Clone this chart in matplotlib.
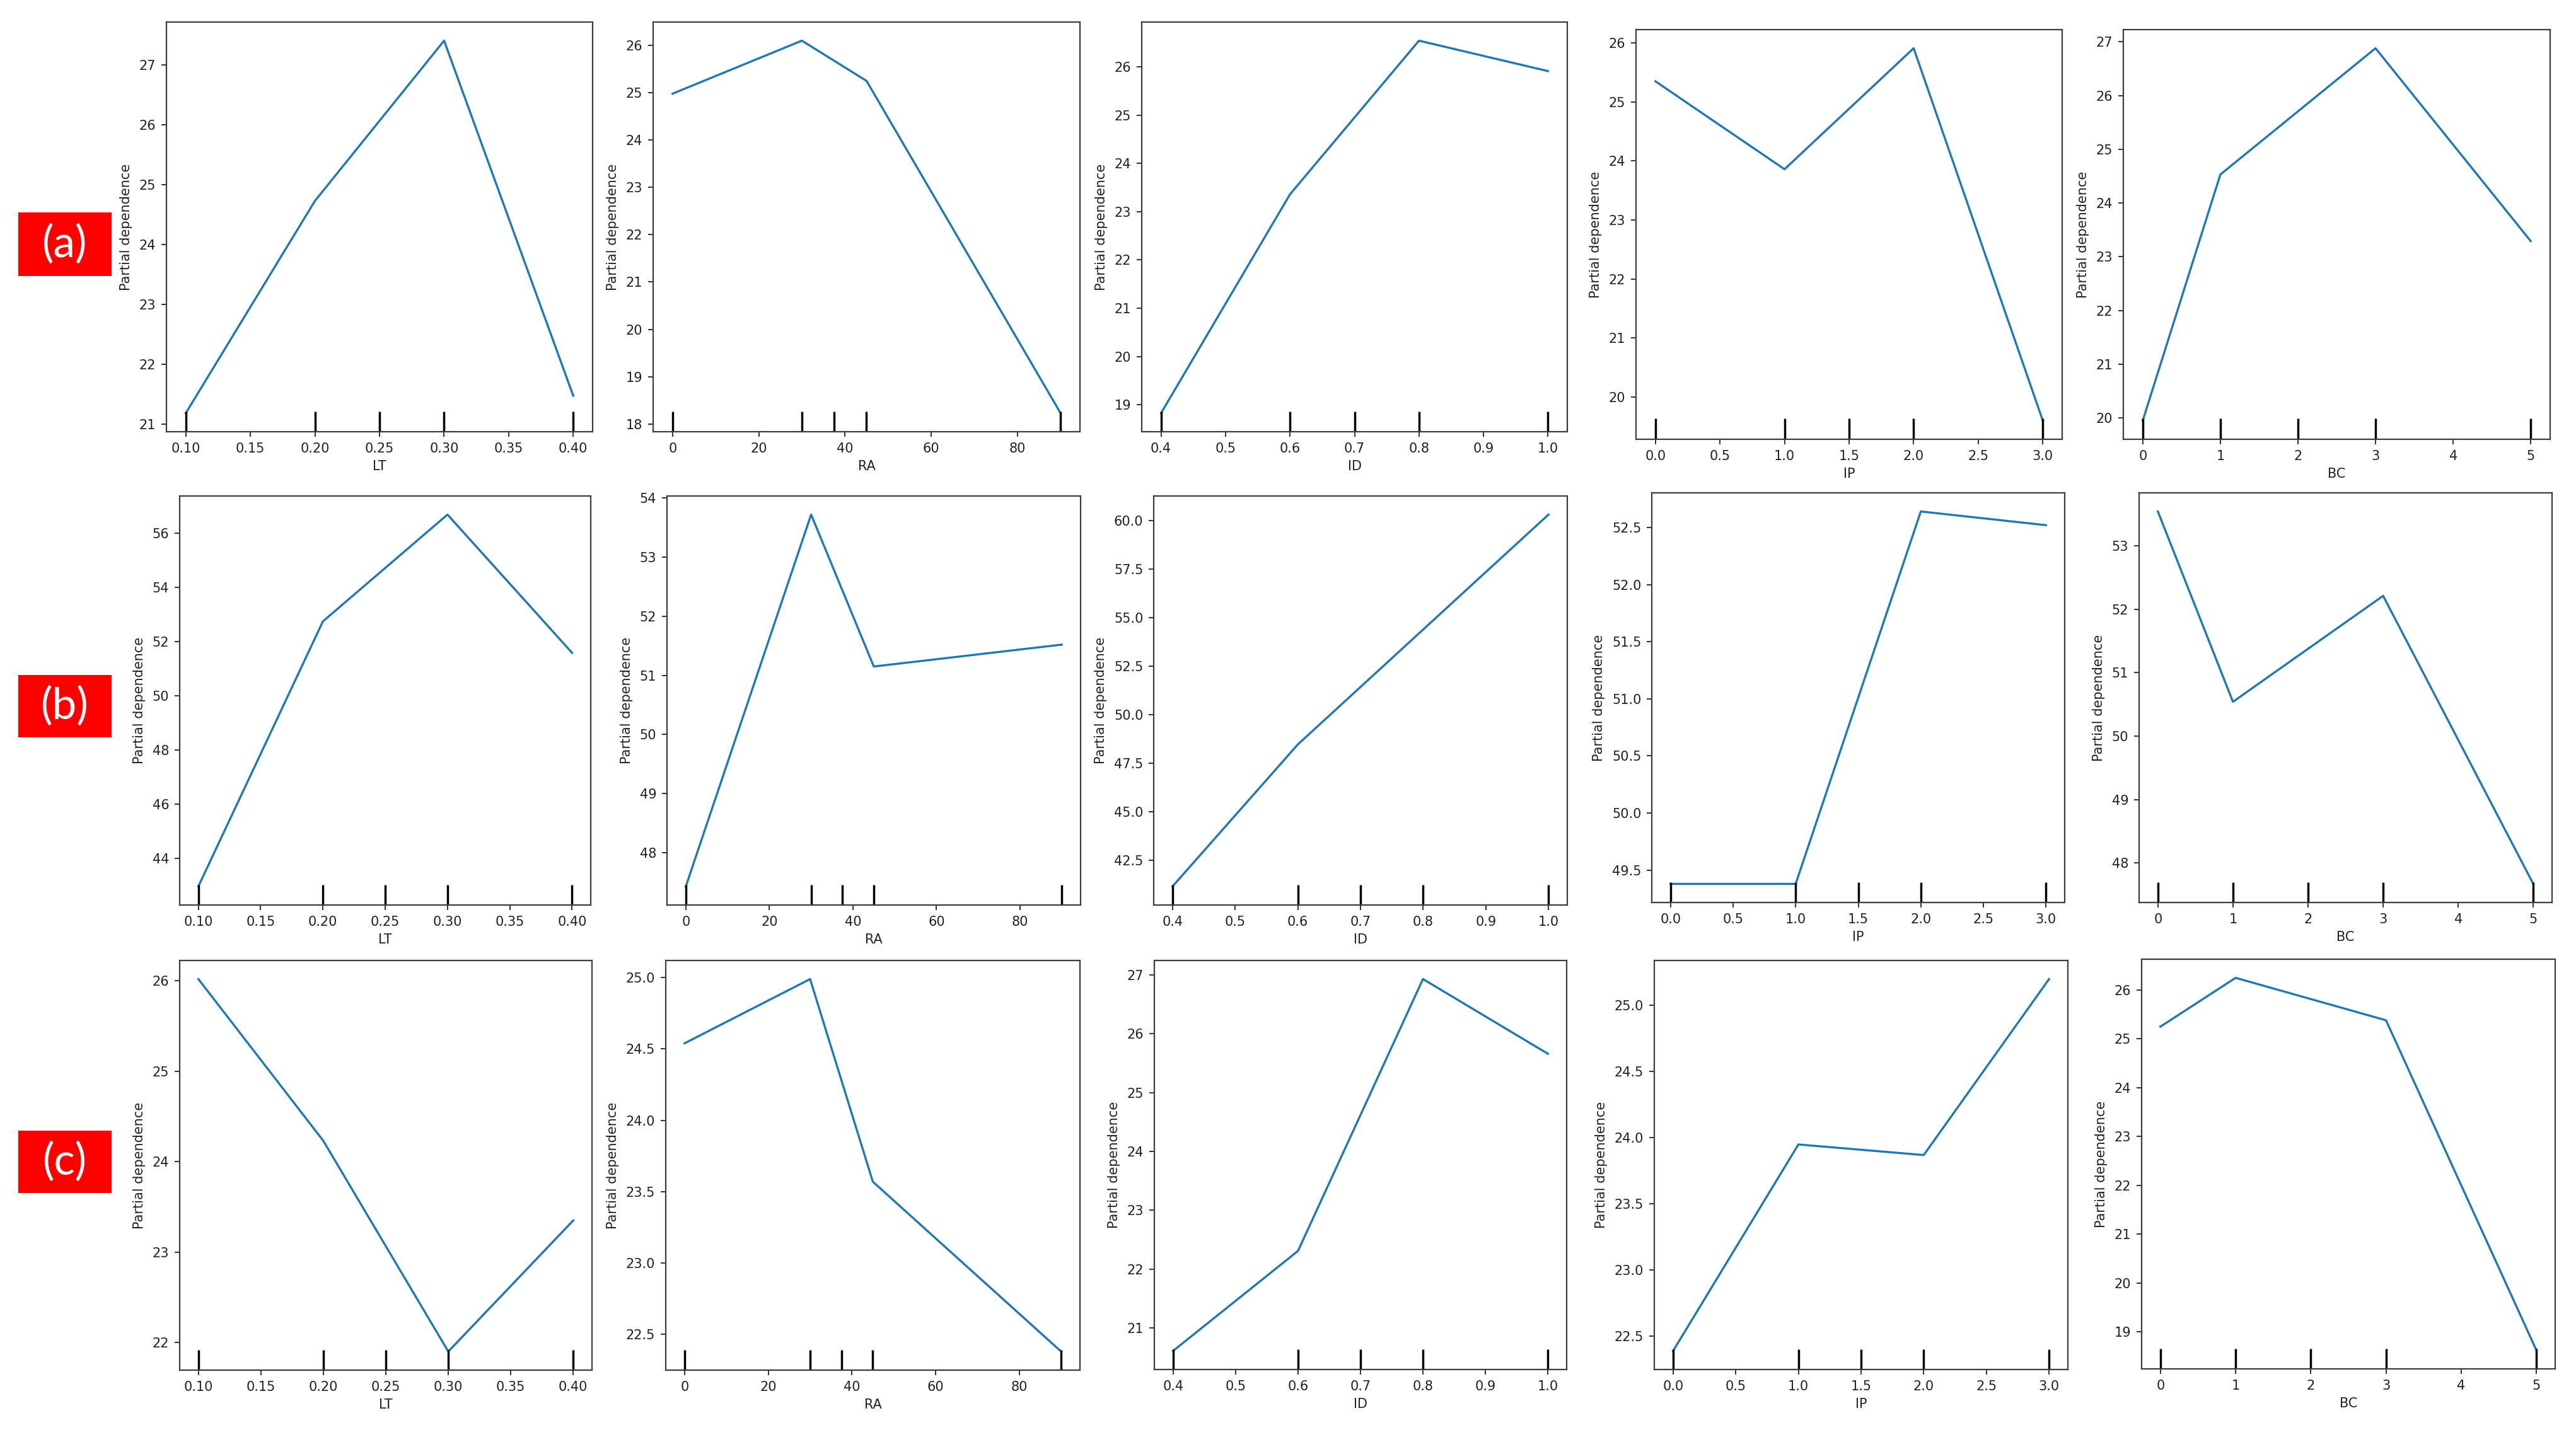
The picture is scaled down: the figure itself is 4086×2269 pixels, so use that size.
import matplotlib
matplotlib.use("Agg")
import matplotlib.pyplot as plt
from matplotlib.ticker import MaxNLocator
from matplotlib.patches import Rectangle

# ---------------- data ----------------
features = ["LT", "RA", "ID", "IP", "BC"]

# grid points of each feature (kinks of the PD curves)
grid_LT = [0.10, 0.20, 0.30, 0.40]
grid_RA = [0, 30, 45, 90]
grid_ID_a = [0.4, 0.6, 0.8, 1.0]
grid_ID_b = [0.4, 0.6, 1.0]
grid_IP = [0.0, 1.0, 2.0, 3.0]
grid_BC = [0, 1, 3, 5]

# deciles (rug ticks at bottom)
dec_LT = [0.10, 0.20, 0.25, 0.30, 0.40]
dec_RA = [0, 30, 37.5, 45, 90]
dec_ID = [0.4, 0.6, 0.7, 0.8, 1.0]
dec_IP = [0.0, 1.0, 1.5, 2.0, 3.0]
dec_BC = [0, 1, 2, 3, 5]

# (a)
a_LT = [21.18, 24.73, 27.41, 21.47]
a_RA = [24.98, 26.10, 25.25, 18.23]
a_ID = [18.83, 23.36, 26.54, 25.91]
a_IP = [25.35, 23.86, 25.91, 19.60]
a_BC = [19.95, 24.53, 26.88, 23.29]

# (b)
b_LT = [42.96, 52.74, 56.68, 51.58]
b_RA = [47.43, 53.72, 51.15, 51.52]
b_ID = [41.14, 48.46, 60.31]
b_IP = [49.38, 49.38, 52.64, 52.52]
b_BC = [53.54, 50.54, 52.21, 47.67]

# (c)
c_LT = [26.02, 24.23, 21.90, 23.35]
c_RA = [24.54, 24.99, 23.57, 22.38]
c_ID = [20.61, 22.31, 26.93, 25.66]
c_IP = [22.39, 23.95, 23.87, 25.20]
c_BC = [25.25, 26.25, 25.38, 18.62]

row_labels = ["(a)", "(b)", "(c)"]

rows = [
    [(grid_LT, a_LT, dec_LT), (grid_RA, a_RA, dec_RA), (grid_ID_a, a_ID, dec_ID),
     (grid_IP, a_IP, dec_IP), (grid_BC, a_BC, dec_BC)],
    [(grid_LT, b_LT, dec_LT), (grid_RA, b_RA, dec_RA), (grid_ID_b, b_ID, dec_ID),
     (grid_IP, b_IP, dec_IP), (grid_BC, b_BC, dec_BC)],
    [(grid_LT, c_LT, dec_LT), (grid_RA, c_RA, dec_RA), (grid_ID_a, c_ID, dec_ID),
     (grid_IP, c_IP, dec_IP), (grid_BC, c_BC, dec_BC)],
]

# ---------------- layout (pixels: left, top, right, bottom) ----------------
W, H = 4087, 2269
boxes = [
    [(264, 35, 940, 685), (1036, 35, 1713, 685), (1811, 35, 2486, 685),
     (2595, 47, 3271, 697), (3368, 47, 4045, 697)],
    [(285, 787, 937, 1436), (1058, 787, 1714, 1436), (1830, 787, 2486, 1436),
     (2620, 782, 3275, 1432), (3393, 782, 4048, 1432)],
    [(285, 1524, 939, 2174), (1056, 1524, 1713, 2174), (1831, 1524, 2485, 2173),
     (2624, 1524, 3280, 2173), (3397, 1522, 4053, 2172)],
]
label_boxes = [(29, 337, 177, 438), (29, 1071, 177, 1170), (29, 1794, 177, 1893)]

fig = plt.figure(figsize=(W / 100, H / 100), dpi=100)
fig.patch.set_facecolor("white")

FS = 15
spine_col = "#3c3c3c"

for r, row in enumerate(rows):
    for c, (gx, gy, dec) in enumerate(row):
        l, t, rr, b = boxes[r][c]
        ax = fig.add_axes([l / W, 1 - b / H, (rr - l) / W, (b - t) / H])
        ax.plot(gx, gy, color="#1f77b4", lw=2.4)
        ax.vlines(dec, 0, 0.05, transform=ax.get_xaxis_transform(),
                  color="black", lw=2.5)
        ax.xaxis.set_major_locator(MaxNLocator(nbins=9, steps=[1, 2, 2.5, 5, 10]))
        ax.yaxis.set_major_locator(MaxNLocator(nbins=9, steps=[1, 2, 2.5, 5, 10]))
        ax.set_xlabel(features[c], fontsize=FS, color="#222222", labelpad=6)
        ax.set_ylabel("Partial dependence", fontsize=FS, color="#222222", labelpad=8)
        ax.tick_params(labelsize=FS, length=6, width=1.3, pad=6,
                       colors="#222222")
        for s in ax.spines.values():
            s.set_color(spine_col)
            s.set_linewidth(1.6)

for (l, t, rr, b), txt in zip(label_boxes, row_labels):
    fig.patches.append(Rectangle((l / W, 1 - b / H), (rr - l) / W, (b - t) / H,
                                 transform=fig.transFigure, facecolor="#ff0000",
                                 edgecolor="none"))
    fig.text((l + rr) / 2 / W, 1 - (t + b) / 2 / H, txt, color="white",
             fontsize=50, family=["Lato", "DejaVu Sans"],
             ha="center", va="center")

fig.savefig("out.png", dpi=100, facecolor="white")
